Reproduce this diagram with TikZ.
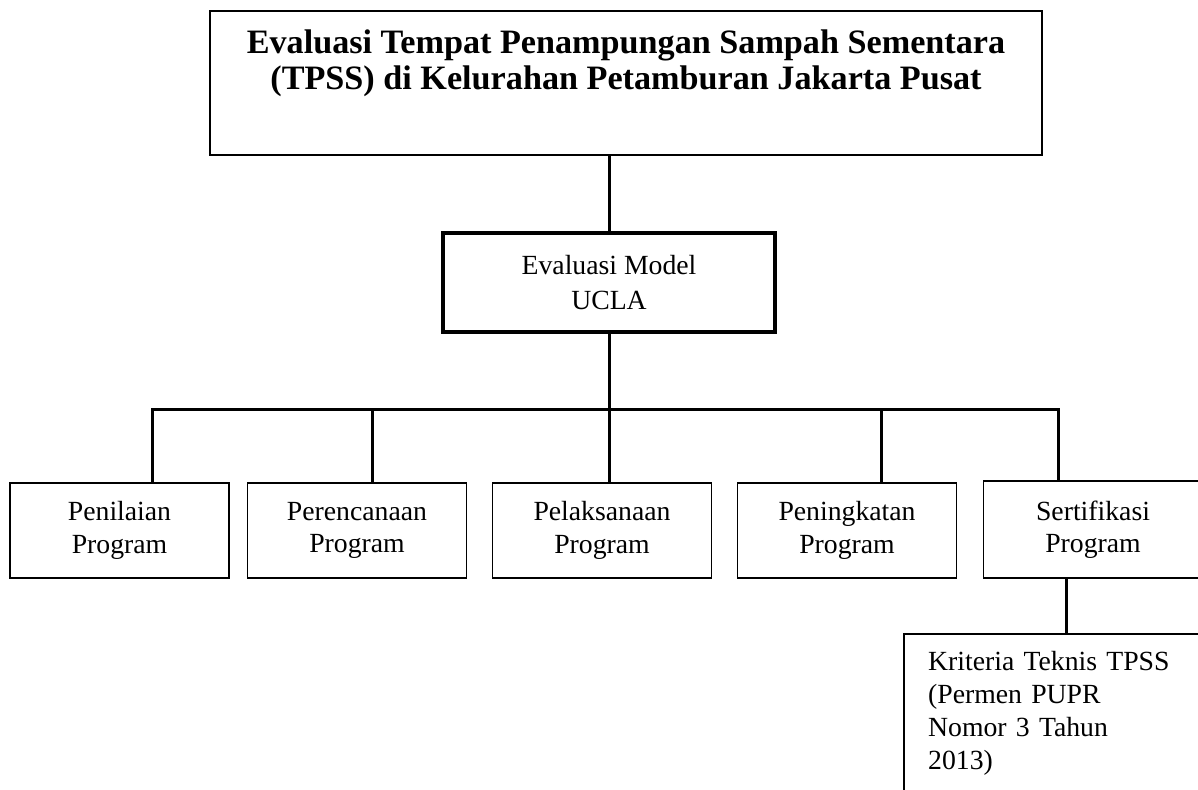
\documentclass[tikz,border=0pt]{standalone}
\usepackage{fontspec}
\setmainfont{Liberation Serif}
\usetikzlibrary{calc}

\begin{document}
\begin{tikzpicture}[x=0.433pt,y=-0.433pt,
  kotak/.style={draw,line width=0.8pt,align=center,inner sep=0pt,font=\fontsize{12}{14}\selectfont},
  program/.style={kotak,minimum width=94.8pt,minimum height=41.1pt},
  garis/.style={line width=1.3pt}]
  \useasboundingbox (0,0) rectangle (1198,789);
  \node[kotak,minimum width=360.3pt,minimum height=62.4pt,font=\fontsize{14.8}{15.6}\selectfont\bfseries] (judul) at (626,83)
    {Evaluasi Tempat Penampungan Sampah Sementara\\(TPSS) di Kelurahan Petamburan Jakarta Pusat\\\strut};
  \node[kotak,line width=1.6pt,minimum width=143.8pt,minimum height=42.9pt,font=\fontsize{12}{15}\selectfont] (ucla) at (609,282.5) {Evaluasi Model\\UCLA};
  \node[program] (penilaian) at (119.5,530.5) {Penilaian\\Program};
  \node[program] (perencanaan) at (357,530.5) {Perencanaan\\Program};
  \node[program] (pelaksanaan) at (602,530.5) {Pelaksanaan\\Program};
  \node[program] (peningkatan) at (847,530.5) {Peningkatan\\Program};
  \node[program,minimum height=42pt] (sertifikasi) at (1093,529.5) {Sertifikasi\\Program};
  \node[draw,line width=1pt,anchor=north west,align=left,text width=140pt,inner xsep=10.4pt,inner ysep=7.5pt,text depth=60pt,font=\fontsize{12}{14.3}\selectfont] (kriteria) at (903,633)
    {Kriteria Teknis TPSS\\(Permen PUPR\\Nomor 3 Tahun\\2013)};
  \coordinate (b1) at (152,409);
  \coordinate (b2) at (372,409);
  \coordinate (b4) at (881,409);
  \coordinate (b5) at (1058,409);
  \coordinate (tk) at (1066,633);
  \draw[garis] (judul.south -| ucla) -- (ucla.north);
  \draw[garis] (ucla.south) -- (ucla.south |- pelaksanaan.north);
  \draw[garis] (b1 |- penilaian.north) -- (b1) -- (b5) -- (b5 |- sertifikasi.north);
  \foreach \b/\n in {b2/perencanaan,b4/peningkatan}
    \draw[garis] (\b) -- (\b |- \n.north);
  \draw[garis] (tk |- sertifikasi.south) -- (tk |- kriteria.north);
\end{tikzpicture}
\end{document}
